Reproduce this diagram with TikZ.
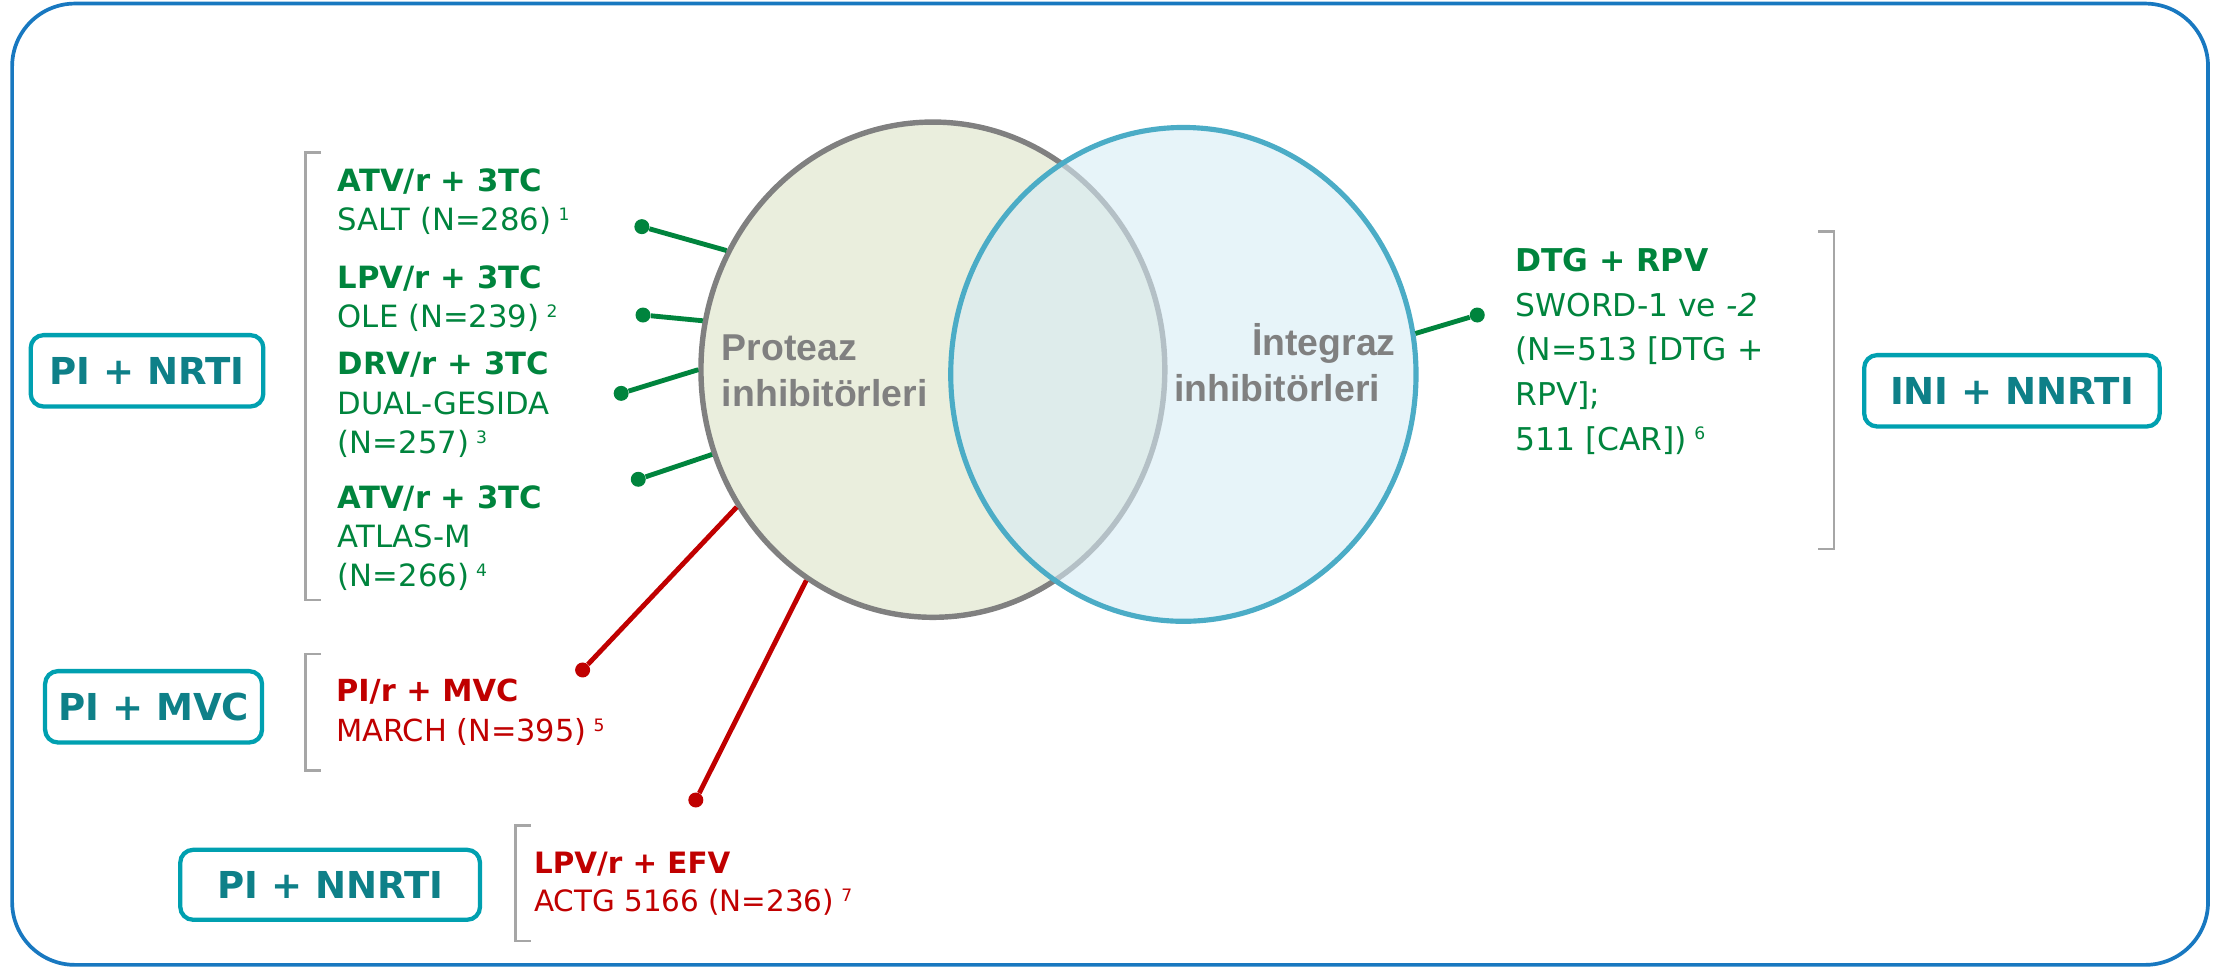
\documentclass[tikz,border=0pt]{standalone}
\usepackage{fontspec}
\setmainfont{DejaVu Sans}
\newfontfamily\venfont{Liberation Sans}
\usetikzlibrary{shapes.geometric}

\definecolor{rxgreen}{RGB}{0,132,61}
\definecolor{rxred}{RGB}{192,0,0}
\definecolor{boxteal}{RGB}{0,160,176}
\definecolor{boxtext}{RGB}{14,128,136}
\definecolor{frameblue}{RGB}{24,120,192}
\definecolor{piedge}{RGB}{128,128,128}
\definecolor{pifill}{RGB}{234,238,221}
\definecolor{iniedge}{RGB}{75,172,198}
\definecolor{inifill}{RGB}{215,236,245}
\definecolor{bracketgray}{RGB}{166,166,166}
\definecolor{labelgray}{RGB}{128,128,128}

% reference number set as a small raised figure
\newcommand\refnum[2][7pt]{\hspace{5pt}\raisebox{#1}{\fontsize{12}{12}\selectfont #2}}
% stacked study lines: size, line distance, rows
\newcommand\studylines[3]{{\fontsize{#1}{#2}\selectfont\begin{tabular}[t]{@{}l@{}}#3\end{tabular}}}

\tikzset{
  outerframe/.style={draw=frameblue, line width=2.6pt, rounded corners=44pt},
  classbox/.style={draw=boxteal, line width=3pt, rounded corners=9pt, inner sep=0pt,
    text=boxtext, font=\fontsize{26}{30}\selectfont\bfseries},
  study/.style={anchor=base west, inner sep=0pt},
  enddot/.style={circle, inner sep=0pt, minimum size=10.5pt, fill=#1},
  linkline/.style={draw=#1, line width=3.4pt},
  gbracket/.style={draw=bracketgray, line width=1.9pt},
  setlabel/.style={inner sep=0pt, text=labelgray, font=\venfont\bfseries\fontsize{26.2}{32.4}\selectfont},
}

\begin{document}
\begin{tikzpicture}[x=1pt,y=-1pt]
\useasboundingbox (0,0) rectangle (1568,678);

% outer frame
\draw[outerframe] (8.5,2.5) rectangle (1547,676);

% the two sets
\node[ellipse, draw=piedge, fill=pifill, line width=3.8pt, inner sep=0pt,
      minimum width=325pt, minimum height=347pt] (pi) at (653.6,259) {};
\node[ellipse, draw=iniedge, fill=inifill, fill opacity=0.6, draw opacity=1, line width=3.6pt,
      inner sep=0pt, minimum width=326pt, minimum height=346pt] (ini) at (829.1,262.3) {};

\node[setlabel, anchor=base west] (pilabel) at (505.6,252.7)
  {\begin{tabular}[t]{@{}l@{}}Proteaz\\ inhibitörleri\end{tabular}};
\node[setlabel, anchor=base east] (inilabel) at (978,249)
  {\begin{tabular}[t]{@{}r@{}}İntegraz\\ inhibitörleri\hspace*{11pt}\end{tabular}};

% brackets around the study groups
\draw[gbracket] (225,107) -- (214,107) -- (214,420.4) -- (225,420.4);
\draw[gbracket] (225,458.2) -- (214,458.2) -- (214,540) -- (225,540);
\draw[gbracket] (372,578.5) -- (361.2,578.5) -- (361.2,659.3) -- (372,659.3);
\draw[gbracket] (1274,162.3) -- (1285,162.3) -- (1285,384.7) -- (1274,384.7);

% class boxes
\node[classbox, minimum width=163pt, minimum height=50pt] (nrti) at (103,259.8) {PI + NRTI};
\node[classbox, minimum width=152pt, minimum height=50pt] (mvc) at (107.6,495.2) {PI + MVC};
\node[classbox, minimum width=210pt, minimum height=49pt] (nnrti) at (231.3,619.9) {PI + NNRTI};
\node[classbox, minimum width=207pt, minimum height=50pt] (ininnrti) at (1409.6,273.8) {INI + NNRTI};

% studies
\node[study, text=rxgreen] (salt) at (236.5,134.3)
  {\studylines{21.5}{27.5}{\textbf{ATV/r + 3TC}\\ SALT (N=286)\refnum{1}}};
\node[study, text=rxgreen] (ole) at (236.5,202)
  {\studylines{21.5}{27.5}{\textbf{LPV/r + 3TC}\\ OLE (N=239)\refnum{2}}};
\node[study, text=rxgreen] (gesida) at (236.5,262.7)
  {\studylines{21.5}{27.5}{\textbf{DRV/r + 3TC}\\ DUAL-GESIDA\\ (N=257)\refnum{3}}};
\node[study, text=rxgreen] (atlas) at (236.5,356.2)
  {\studylines{21.5}{27.5}{\textbf{ATV/r + 3TC}\\ ATLAS-M\\ (N=266)\refnum{4}}};
\node[study, text=rxred] (march) at (235.3,491.2)
  {\studylines{21.3}{28.5}{\textbf{PI/r + MVC}\\ MARCH (N=395)\refnum{5}}};
\node[study, text=rxred] (actg) at (374,611.9)
  {\studylines{20.6}{27}{\textbf{LPV/r + EFV}\\ ACTG 5166 (N=236)\refnum{7}}};
\node[study, text=rxgreen] (sword) at (1061.5,190.3)
  {\studylines{22}{31.3}{\textbf{DTG + RPV}\\ SWORD-1 ve \textit{-2}\\ (N=513 [DTG +\\ RPV];\\ 511 [CAR])\refnum[7.5pt]{6}}};

% connector dots
\node[enddot=rxgreen] (d1) at (449.7,158.8) {};
\node[enddot=rxgreen] (d2) at (450.5,220.7) {};
\node[enddot=rxgreen] (d3) at (435.2,275.6) {};
\node[enddot=rxgreen] (d4) at (447.2,335.8) {};
\node[enddot=rxred] (d5) at (408.2,469.4) {};
\node[enddot=rxred] (d6) at (487.5,560.5) {};
\node[enddot=rxgreen] (d7) at (1035,220.7) {};

% connectors from the sets to the studies
\draw[linkline=rxgreen] (pi.150.6) -- (d1);
\draw[linkline=rxgreen] (pi.168.3) -- (d2);
\draw[linkline=rxgreen] (pi.180) -- (d3);
\draw[linkline=rxgreen] (pi.201.9) -- (d4);
\draw[linkline=rxred] (pi.215.7) -- (d5);
\draw[linkline=rxred] (pi.239.1) -- (d6);
\draw[linkline=rxgreen] (ini.10.6) -- (d7);
\end{tikzpicture}
\end{document}
